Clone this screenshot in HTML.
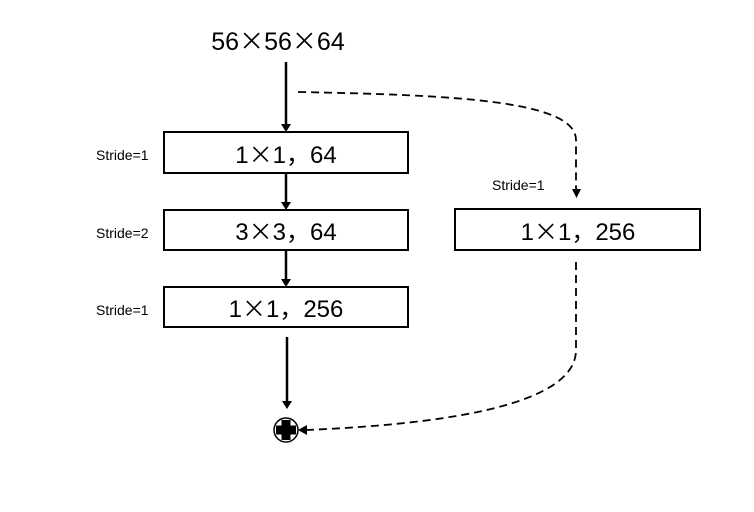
<!DOCTYPE html>
<html><head><style>body{margin:0;background:#fff}.c{font-family:"Noto Sans CJK SC",sans-serif}</style></head><body>
<svg width="754" height="507" xmlns="http://www.w3.org/2000/svg" font-family="Liberation Sans, Arial, sans-serif">
<text x="278" y="50" font-size="25" text-anchor="middle">56<tspan class="c">×</tspan>56<tspan class="c">×</tspan>64</text>
<g stroke="#000" stroke-width="2.5" fill="none">
<line x1="286" y1="62" x2="286" y2="124"/>
<line x1="286" y1="174" x2="286" y2="202"/>
<line x1="286" y1="251" x2="286" y2="279"/>
<line x1="287" y1="337" x2="287" y2="401"/>
</g>
<g fill="#000">
<polygon points="281,124 291,124 286,132"/>
<polygon points="281,202 291,202 286,210"/>
<polygon points="281,279 291,279 286,287"/>
<polygon points="282,401 292,401 287,409"/>
<polygon points="572,189 581,189 576.5,198"/>
<polygon points="307,425 307,435 298,430"/>
</g>
<g stroke="#000" stroke-width="2" fill="#fff">
<rect x="164" y="132" width="244" height="41"/>
<rect x="164" y="210" width="244" height="40"/>
<rect x="164" y="287" width="244" height="40"/>
<rect x="455" y="209" width="245" height="41"/>
</g>
<g stroke="#000" stroke-width="1.8" fill="none" stroke-dasharray="8,5">
<path d="M298,92 C450,95 576,100 576,140 L576,190"/>
<path d="M576,262 L576,350 C576,410 420,425 307,430"/>
</g>
<circle cx="286" cy="430" r="12" fill="#fff" stroke="#000" stroke-width="1.5"/>
<path d="M281.5,420 h9 v5.5 h5.5 v9 h-5.5 v5.5 h-9 v-5.5 h-5.5 v-9 h5.5 z" fill="#000"/>
<g font-size="24" text-anchor="middle">
<text x="286" y="163">1<tspan class="c">×</tspan>1<tspan class="c">，</tspan>64</text>
<text x="286" y="240">3<tspan class="c">×</tspan>3<tspan class="c">，</tspan>64</text>
<text x="286" y="317">1<tspan class="c">×</tspan>1<tspan class="c">，</tspan>256</text>
<text x="578" y="240">1<tspan class="c">×</tspan>1<tspan class="c">，</tspan>256</text>
</g>
<g font-size="14">
<text x="96" y="160">Stride=1</text>
<text x="96" y="238">Stride=2</text>
<text x="96" y="315">Stride=1</text>
<text x="492" y="190">Stride=1</text>
</g>
</svg>
</body></html>
